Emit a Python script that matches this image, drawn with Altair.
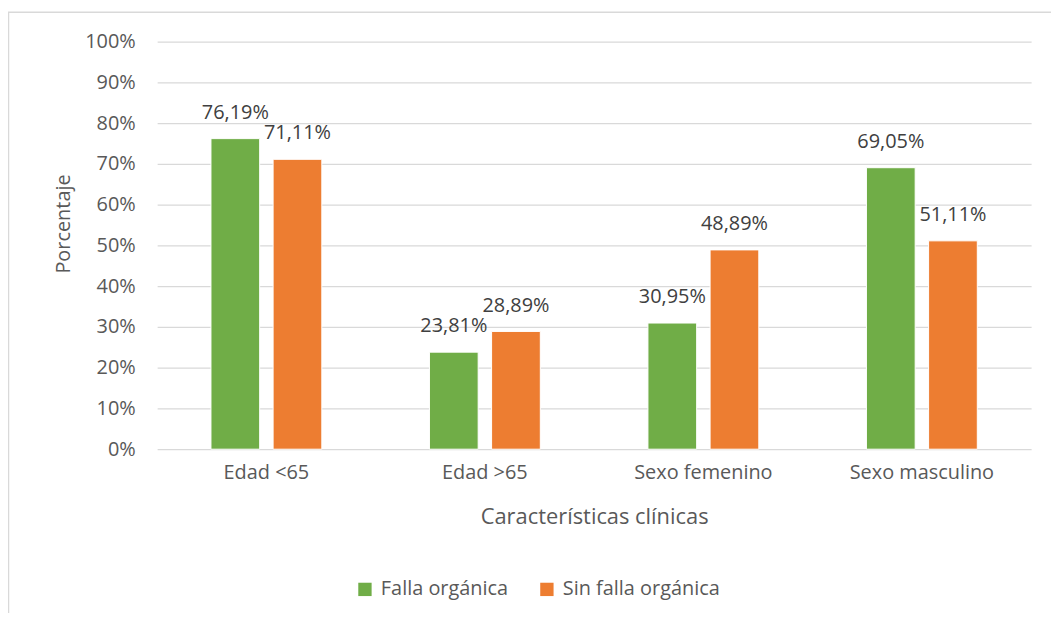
import altair as alt
import pandas as pd

categories = ["Edad <65", "Edad >65", "Sexo femenino", "Sexo masculino"]
series = ["Falla orgánica", "Sin falla orgánica"]
falla = [76.19, 23.81, 30.95, 69.05]
sin_falla = [71.11, 28.89, 48.89, 51.11]
colors = ["#70AD47", "#ED7D31"]

rows = []
for c, a, b in zip(categories, falla, sin_falla):
    for s, v in zip(series, [a, b]):
        rows.append({"cat": c, "serie": s, "val": v,
                     "label": f"{v:.2f}%".replace(".", ",")})
df = pd.DataFrame(rows)

FONT = "Open Sans"
TXT = "#595959"
W, H = 879, 410

x = alt.X("cat:N", sort=categories,
          scale=alt.Scale(paddingInner=0, paddingOuter=0),
          axis=alt.Axis(title="Características clínicas", labelAngle=0,
                        labelPadding=13, titleY=68, titleBaseline="middle",
                        titleFontSize=22))
xo = alt.XOffset("serie:N", sort=series,
                 scale=alt.Scale(paddingInner=0.216, paddingOuter=0.866))
y = alt.Y("val:Q", scale=alt.Scale(domain=[0, 100], nice=False),
          axis=alt.Axis(title="Porcentaje", values=list(range(0, 101, 10)),
                        labelExpr="datum.value + '%'", labelPadding=22,
                        titleAngle=-90, titleX=-94, titleY=183,
                        titleAlign="center", titleBaseline="middle",
                        titleFontSize=20))

bars = alt.Chart(df).mark_bar(stroke="white", strokeWidth=1).encode(
    x=x, xOffset=xo, y=y,
    color=alt.Color("serie:N", sort=series,
                    scale=alt.Scale(domain=series, range=colors),
                    legend=alt.Legend(title=None, orient="none",
                                      direction="horizontal",
                                      legendX=199, legendY=541,
                                      symbolType="square", symbolSize=180,
                                      symbolStrokeWidth=0,
                                      labelFontSize=20, labelColor=TXT,
                                      labelFont=FONT, labelOffset=6,
                                      columnPadding=28)),
)

labels = alt.Chart(df).mark_text(baseline="alphabetic", dy=-20,
                                 fontSize=20, font=FONT, color="#404040").encode(
    x=x, xOffset=xo, y=y, text="label:N"
)

border = alt.Chart(alt.Data(values=[{}])).mark_rect(
    fill=None, filled=False, stroke="#d9d9d9", strokeWidth=1.5
).encode(x=alt.value(-149.5), x2=alt.value(940), y=alt.value(-29.5), y2=alt.value(240 + H))

chart = alt.layer(border, bars, labels).properties(
    width=W, height=H,
    autosize=alt.AutoSizeParams(type="none"),
    padding={"left": 150, "top": 32, "right": 20, "bottom": 163},
).configure_view(stroke=None).configure_axis(
    labelFont=FONT, titleFont=FONT, labelColor=TXT, titleColor=TXT,
    labelFontSize=20, titleFontWeight="normal",
    grid=True, gridColor="#d9d9d9", gridWidth=1.2,
    domain=False, ticks=False,
).configure_axisX(grid=False)

chart.save("out.html", embed_options={"renderer": "svg", "actions": False})
